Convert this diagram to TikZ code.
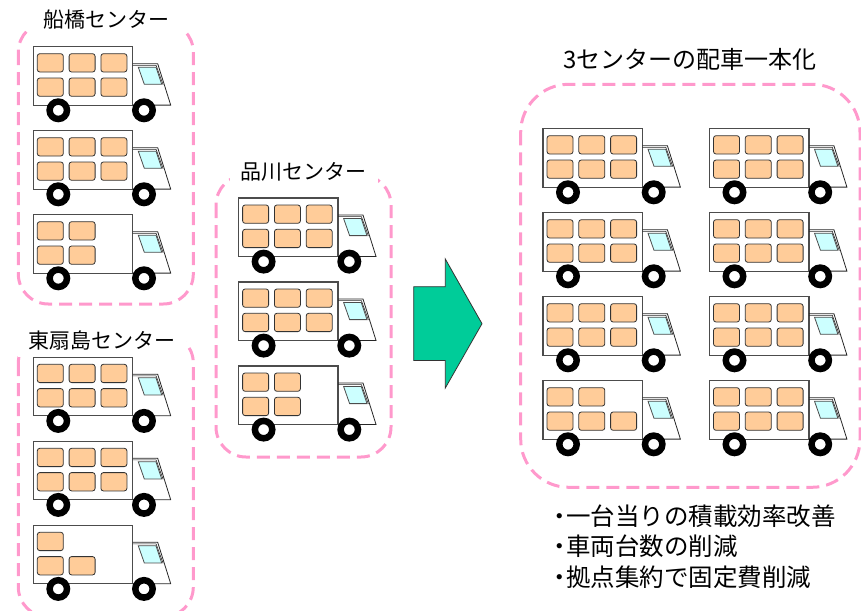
\documentclass[tikz,border=0pt]{standalone}
\usepackage{fontspec}
\setmainfont{Noto Sans CJK JP}
\usetikzlibrary{positioning}

\begin{document}
\begin{tikzpicture}[
    x=1pt,y=-1pt,
    group/.style={draw=pinkline,line width=3pt,rounded corners=30pt,
                  dash pattern=on 13pt off 7pt},
    title/.style={fill=white,inner sep=0pt,minimum height=24pt,text=black,
                  font=\fontsize{21}{25}\selectfont},
    crate/.style={draw=black!80,fill=cratecol,line width=.8pt,rounded corners=2.5pt},
    pics/truck/.style={code={
        % Load box
        \draw[black!70,line width=1.2pt] (0,0) rectangle (99.4,58.4);
        % Cab
        \draw[black!85,line width=.8pt] (99.4,17) -- (124.4,17) -- (137.4,58.4) -- (99.4,58.4);
        \draw[black!85,line width=.6pt] (99.4,18.6) -- (122.8,18.6) -- (129.8,38);
        \draw[black!70,fill=glass,line width=.8pt] (105,20.5) -- (122.7,20.5) -- (128.4,37.6) -- (111,37.6) -- cycle;
        % Cargo
        \foreach \col/\row in {#1}
            \draw[crate] (4+31.8*\col,7+24.3*\row) rectangle ++(26,18.3);
        % Wheels
        \foreach \wheel in {25,110.7}
            \draw[black,fill=white,line width=6.5pt] (\wheel,63.6) circle (8.7);
    }},
    ]
    \definecolor{pinkline}{HTML}{FF99CC}
    \definecolor{cratecol}{HTML}{FFCC99}
    \definecolor{glass}{HTML}{CCFFFF}
    \definecolor{arrowcol}{HTML}{00CC99}

    \useasboundingbox (0,0) rectangle (861,610);

    % Center groups
    \draw[group] (18.3,22) rectangle (193.3,304);
    \draw[group] (18.3,333) rectangle (193.3,617);
    \draw[group] (216,175) rectangle (391,457);
    \draw[group,rounded corners=48pt] (520.7,84.3) rectangle (860,487.3);

    % Center names
    \node[title,minimum width=157pt] (funabashi) at (106,20) {船橋センター};
    \node[title,minimum width=168pt,minimum height=34pt] (higashi) at (101.5,340) {東扇島センター};
    \node[title,minimum width=148pt] (shinagawa) at (303.5,172) {品川センター};
    \node[title,fill=none,font=\fontsize{24}{28}\selectfont] (merged) at (690,59) {3センターの配車一本化};

    % Full trucks
    \foreach \xpos/\ypos in {33.3/46.7,33.3/130.7,33.3/357.3,33.3/441.3,238.6/198,238.6/282,
        543/128.7,543/212.7,543/296.7,709.5/128.7,709.5/212.7,709.5/296.7,709.5/380.7}
        \pic at (\xpos,\ypos) {truck={0/0,1/0,2/0,0/1,1/1,2/1}};

    % Part loads
    \pic at (33.3,214.7) {truck={0/0,1/0,0/1,1/1}};
    \pic at (33.3,525.3) {truck={0/0,0/1,1/1}};
    \pic at (238.6,366) {truck={0/0,1/0,0/1,1/1}};
    \pic at (543,380.7) {truck={0/0,1/0,0/1,1/1,2/1}};

    % Block arrow
    \draw[black!80,fill=arrowcol,line width=.8pt] (413.7,286.7) -- (445.3,286.7) -- (445.3,259)
        -- (482,323.7) -- (445.3,388) -- (445.3,360.5) -- (413.7,360.5) -- cycle;

    % Effects
    \node[inner sep=0pt,anchor=north west,align=left,text=black,
          font=\fontsize{24.5}{30.5}\selectfont] (effects) at (547,504.5)
        {・\kern-5.5pt一台当りの積載効率改善\\・\kern-5.5pt車両台数の削減\\・\kern-5.5pt拠点集約で固定費削減};
\end{tikzpicture}
\end{document}
